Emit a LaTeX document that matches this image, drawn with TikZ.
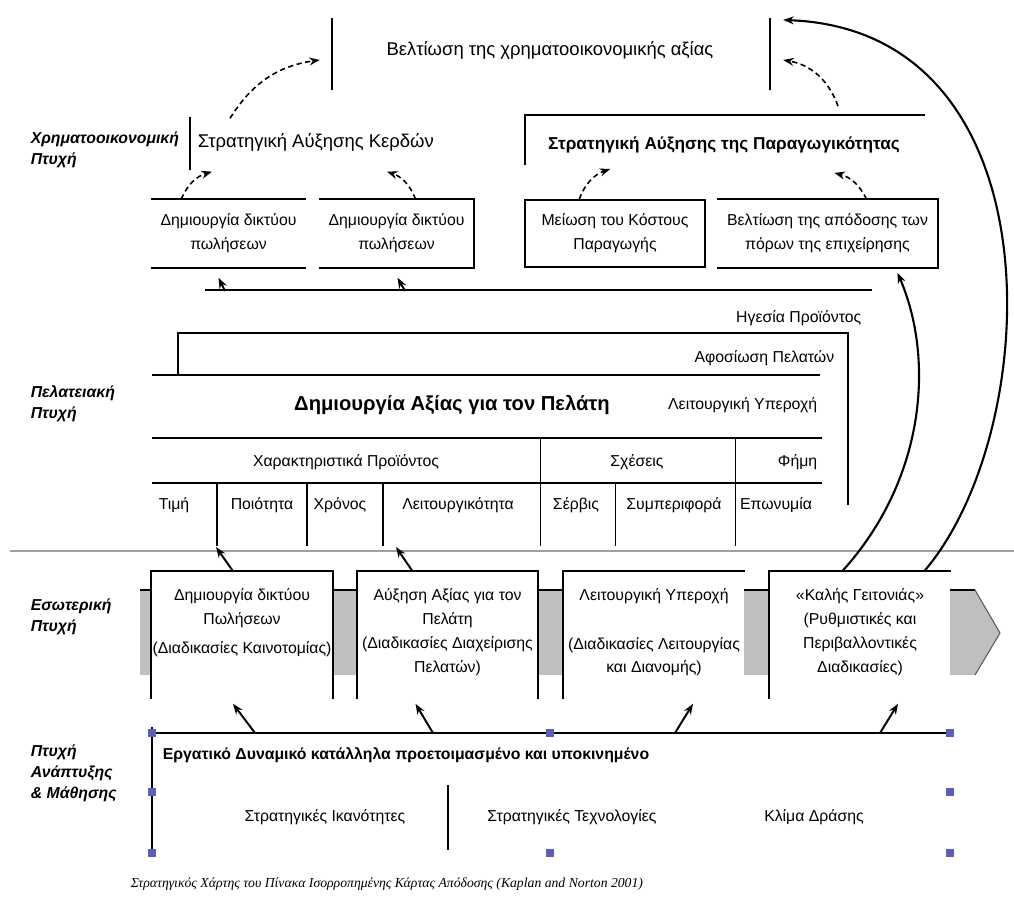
\documentclass[tikz,border=0pt]{standalone}
\usepackage{fontspec}
\setmainfont{Liberation Sans}
\newfontfamily\capfont{Liberation Serif}
\usetikzlibrary{calc,arrows.meta}
\begin{document}
\begin{tikzpicture}[x=0.02cm,y=-0.02cm,>={Stealth[length=6pt,width=4.5pt]},line width=0.9pt,
  txt/.style={font=\fontsize{9}{13.5}\selectfont,align=center,inner sep=0pt},
  side/.style={font=\fontsize{9}{12}\selectfont\bfseries\itshape,align=left,anchor=west,inner sep=0pt},
  sbox/.style={txt,minimum height=1.34cm},
  ibox/.style={fill=white,minimum width=3.6cm,minimum height=2.52cm,inner sep=0pt},
  dasharr/.style={->,densely dashed,line width=0.9pt},
  uparr/.style={->,line width=1.1pt},
  handle/.style={fill=blue!40!gray!90,inner sep=0pt,minimum size=4pt}]
\useasboundingbox (0,0) rectangle (1014,918);
\node[txt,font=\fontsize{10.5}{12}\selectfont] (goal) at (550,50) {Βελτίωση της χρηματοοικονομικής αξίας};
\draw (332,18) -- (332,90);
\draw (770,18) -- (770,90);
\node[side] (fin) at (30,150) {Χρηματοοικονομική\\Πτυχή};
\draw (190,117) -- (190,170);
\node[txt,anchor=west,font=\fontsize{10.5}{12}\selectfont] (profit) at (197,142) {Στρατηγική Αύξησης Κερδών};
\node[txt,font=\fontsize{9.8}{12}\selectfont\bfseries] (prodv) at (724,145) {Στρατηγική Αύξησης της Παραγωγικότητας};
\draw (525,165) -- (525,115) -- (925,115);
\node[sbox,minimum width=3.06cm] (net1) at (228.5,233.5) {Δημιουργία δικτύου\\πωλήσεων};
\draw (net1.north west) -- (net1.north east) (net1.south west) -- (net1.south east);
\node[sbox,minimum width=3.06cm] (net2) at (396.5,233.5) {Δημιουργία δικτύου\\πωλήσεων};
\draw (net2.north west) -- (net2.north east) -- (net2.south east) -- (net2.south west);
\node[sbox,draw,minimum width=3.6cm] (cost) at (615,233.5) {Μείωση του Κόστους\\Παραγωγής};
\node[sbox,minimum width=4.38cm] (eff) at (827.5,233.5) {Βελτίωση της απόδοσης των\\πόρων της επιχείρησης};
\draw (eff.north west) -- (eff.north east) -- (eff.south east) -- (eff.south west);
\draw[dasharr] ($(net1.north west)+(30,0)$) to[bend left=25] ($(profit.south west)+(15,20)$);
\draw[dasharr] ($(net2.north)+(19,0)$) to[bend right=25] ($(profit.south west)+(190,20)$);
\draw[dasharr] ($(cost.north west)+(55,0)$) to[bend left=25] ($(prodv.south west)+(63,15)$);
\draw[dasharr] ($(eff.north)+(39,0)$) to[bend right=25] ($(prodv.south west)+(287,19)$);
\draw[dasharr] ($(profit.north west)+(33,-14)$) to[bend left=25] ($(goal.west)+(-66,10)$);
\draw[dasharr] ($(prodv.north)+(114,-30)$) to[bend right=30] ($(goal.east)+(69,10)$);
\coordinate (bl) at (205,290);
\coordinate (br) at (872,290);
\draw (bl) -- (br);
\draw[uparr] ($(bl)+(20,1)$) -- ($(net1.south)+(-10,10)$);
\draw[uparr] ($(bl)+(200,1)$) -- ($(net2.south)+(1,10)$);
\node[side] (cus) at (30,404) {Πελατειακή\\Πτυχή};
\node[txt,anchor=east] (lead) at (862,318) {Ηγεσία Προϊόντος};
\draw (178,375) -- (178,333) -- (848,333) -- (848,505);
\node[txt,anchor=east] (loyal) at (835,358) {Αφοσίωση Πελατών};
\draw (152,375) -- (820,375);
\node[txt,font=\fontsize{11.5}{14}\selectfont\bfseries] (cv) at (452,405) {Δημιουργία Αξίας για τον Πελάτη};
\node[txt,anchor=east] (opx) at (818,405) {Λειτουργική Υπεροχή};
\draw (152,438) -- (822,438);
\node[txt] (attr) at (346,462) {Χαρακτηριστικά Προϊόντος};
\node[txt] (rel) at (637,462) {Σχέσεις};
\node[txt,anchor=east] (img) at (818,462) {Φήμη};
\draw (152,483) -- (822,483);
\node[txt] (price) at (174,505) {Τιμή};
\node[txt] (qual) at (262,505) {Ποιότητα};
\node[txt] (time) at (340,505) {Χρόνος};
\node[txt] (func) at (458,505) {Λειτουργικότητα};
\node[txt] (serv) at (576,505) {Σέρβις};
\node[txt] (behav) at (674,505) {Συμπεριφορά};
\node[txt] (brand) at (776,505) {Επωνυμία};
\foreach \x in {217,307,383} \draw[line width=0.8pt] (\x,483) -- (\x,546);
\foreach \x in {540,735} \draw[line width=0.5pt] (\x,438) -- (\x,546);
\draw[line width=0.5pt] (615,483) -- (615,546);
\coordinate (dq) at (216,547);
\coordinate (df) at (396,547);
\draw[gray!75,line width=1.4pt] (10,551) -- (1014,551);
\node[side] (int) at (30,617) {Εσωτερική\\Πτυχή};
\fill[gray!50] (140,590) rectangle (975,675);
\draw (140,590) -- (975,590);
\filldraw[fill=gray!50,draw=gray!70!black,line width=0.6pt] (975,590) -- (1000,633) -- (975,675);
\node[ibox] (pa) at (242,635) {};
\node[ibox] (pb) at (447.5,635) {};
\node[ibox] (pc) at (654,635) {};
\node[ibox] (pd) at (860,635) {};
\draw (pa.south west) -- (pa.north west) -- (pa.north east) -- (pa.south east);
\draw (pb.south west) -- (pb.north west) -- (pb.north east) -- (pb.south east);
\draw (pc.south west) -- (pc.north west) -- (pc.north east);
\draw (pd.south west) -- (pd.north west) -- (pd.north east);
\node[txt,anchor=north] (pat) at ($(pa.north)+(0,17)$) {Δημιουργία δικτύου\\Πωλήσεων\\[3pt](Διαδικασίες Καινοτομίας)};
\node[txt,anchor=north] (pbt) at ($(pb.north)+(0,17)$) {Αύξηση Αξίας για τον\\Πελάτη\\(Διαδικασίες Διαχείρισης\\Πελατών)};
\node[txt,anchor=north] (pct) at ($(pc.north)+(0,17)$) {Λειτουργική Υπεροχή\\[14pt](Διαδικασίες Λειτουργίας\\και Διανομής)};
\node[txt,anchor=north] (pdt) at ($(pd.north)+(0,17)$) {«Καλής Γειτονιάς»\\(Ρυθμιστικές και\\Περιβαλλοντικές\\Διαδικασίες)};
\draw[uparr] ($(pa.north)+(-9,0)$) -- (dq);
\draw[uparr] ($(pb.north)+(-35,0)$) -- (df);
\draw[->,line width=1.2pt] ($(pd.north west)+(73,0)$) .. controls (925,480) and (935,360) .. ($(eff.south)+(70,5)$);
\draw[->,line width=1.2pt] ($(pd.north west)+(155,0)$) .. controls (1045,430) and (1060,30) .. ($(goal.east)+(69,-30)$);
\node[side] (lrn) at (30,773) {Πτυχή\\Ανάπτυξης\\\& Μάθησης};
\coordinate (ll) at (152,733);
\coordinate (lr) at (950,733);
\draw (ll) -- (lr);
\draw (152,727) -- (152,855);
\node[txt,anchor=west,font=\fontsize{9}{11}\selectfont\bfseries] (staff) at (162,755) {Εργατικό Δυναμικό κατάλληλα προετοιμασμένο και υποκινημένο};
\draw[uparr] ($(ll)+(103,0)$) -- ($(pa.south)+(-9,5)$);
\draw[uparr] ($(ll)+(281,0)$) -- ($(pb.south)+(-32,5)$);
\draw[uparr] ($(ll)+(523,0)$) -- ($(pc.south)+(39,5)$);
\draw[uparr] ($(ll)+(728,0)$) -- ($(pd.south)+(38,5)$);
\draw (448,785) -- (448,850);
\node[txt] (skills) at (325,817) {Στρατηγικές Ικανότητες};
\node[txt] (tech) at (572,817) {Στρατηγικές Τεχνολογίες};
\node[txt] (clim) at (814,817) {Κλίμα Δράσης};
\foreach \p [count=\i] in {(152,733),(152,792),(152,853),(550,733),(550,853),(950,733),(950,792),(950,853)}
  \node[handle] (h\i) at \p {};
\node[anchor=west,inner sep=0pt,font=\capfont\itshape\fontsize{7.8}{10}\selectfont] (cap) at (130,884) {Στρατηγικός Χάρτης του Πίνακα Ισορροπημένης Κάρτας Απόδοσης (Kaplan and Norton 2001)};
\end{tikzpicture}
\end{document}
